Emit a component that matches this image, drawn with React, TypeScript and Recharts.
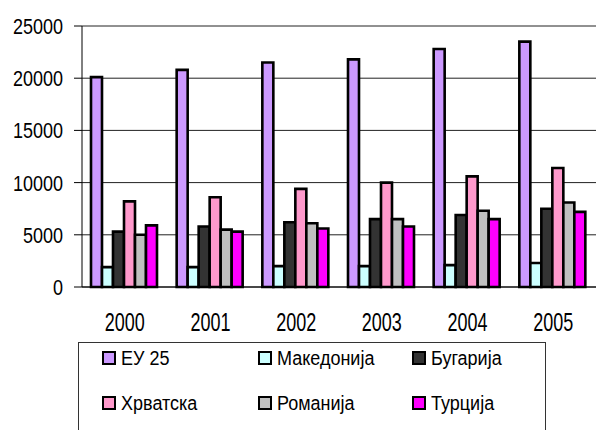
import { Bar, BarChart, CartesianGrid, XAxis, YAxis } from "recharts";

const years = ["2000", "2001", "2002", "2003", "2004", "2005"];
const eu25 = [20100, 20800, 21500, 21800, 22800, 23500];
const makedonija = [1900, 1900, 2000, 2000, 2100, 2300];
const bugarija = [5300, 5800, 6200, 6500, 6900, 7500];
const hrvatska = [8200, 8600, 9400, 10000, 10600, 11400];
const romanija = [5000, 5500, 6100, 6500, 7300, 8100];
const turcija = [5900, 5300, 5600, 5800, 6500, 7200];
const yTicks = [0, 5000, 10000, 15000, 20000, 25000];

const series = [
  { key: "eu25", name: "ЕУ 25", color: "#CC99FF", values: eu25 },
  { key: "mk", name: "Македонија", color: "#CCFFFF", values: makedonija },
  { key: "bg", name: "Бугарија", color: "#333333", values: bugarija },
  { key: "hr", name: "Хрватска", color: "#FF99CC", values: hrvatska },
  { key: "ro", name: "Романија", color: "#C0C0C0", values: romanija },
  { key: "tr", name: "Турција", color: "#FF00FF", values: turcija },
];

const data = years.map((year, i) => {
  const row: Record<string, string | number> = { year };
  series.forEach((s) => {
    row[s.key] = s.values[i];
  });
  return row;
});

const FONT = "'Liberation Sans', Arial, sans-serif";

// labels in the original look stretched vertically, hence the scale
const YTick = (props: any) => {
  const { x, y, payload } = props;
  return (
    <g transform={`translate(${x},${y}) scale(1,1.22)`}>
      <text x={0} y={0} dy="0.36em" textAnchor="end" fontSize={18} fontFamily={FONT} fill="#000">
        {payload.value}
      </text>
    </g>
  );
};

const XTick = (props: any) => {
  const { x, y, payload } = props;
  return (
    <g transform={`translate(${x},${y + 35}) scale(1,1.42)`}>
      <text x={0} y={0} dy="0.36em" textAnchor="middle" fontSize={18} fontFamily={FONT} fill="#000">
        {payload.value}
      </text>
    </g>
  );
};

const legendCols = [23, 179, 333];
const legendRows = [15, 60];

const App = () => {
  return (
    <div
      style={{
        position: "fixed",
        left: 0,
        top: 0,
        width: 596,
        height: 430,
        overflow: "hidden",
        background: "#fff",
      }}
    >
      <BarChart
        width={596}
        height={430}
        data={data}
        margin={{ top: 26, right: 0, left: 0, bottom: 83 }}
        barCategoryGap={9}
        barGap={0}
      >
        <CartesianGrid vertical={false} stroke="#222" />
        <XAxis
          dataKey="year"
          height={60}
          tickLine={false}
          tickSize={0}
          tickMargin={0}
          axisLine={{ stroke: "#000" }}
          tick={<XTick />}
        />
        <YAxis
          width={82}
          domain={[0, 25000]}
          ticks={yTicks}
          interval={0}
          tickSize={8}
          tickMargin={11}
          axisLine={{ stroke: "#000" }}
          tickLine={{ stroke: "#000" }}
          tick={<YTick />}
        />
        {series.map((s) => (
          <Bar
            key={s.key}
            dataKey={s.key}
            name={s.name}
            fill={s.color}
            stroke="#000"
            strokeWidth={2.6}
            isAnimationActive={false}
          />
        ))}
      </BarChart>
      <div
        style={{
          position: "absolute",
          left: 78,
          top: 342,
          width: 468,
          height: 120,
          border: "1px solid #333",
          boxSizing: "border-box",
          fontFamily: FONT,
        }}
      >
        {series.map((s, i) => {
          const left = legendCols[i % 3];
          const top = legendRows[Math.floor(i / 3)];
          return (
            <div key={s.key}>
              <div
                style={{
                  position: "absolute",
                  left,
                  top: top - 7,
                  width: 14,
                  height: 14,
                  boxSizing: "border-box",
                  border: "2px solid #000",
                  background: s.color,
                }}
              />
              <div
                style={{
                  position: "absolute",
                  left: left + 19,
                  top: top - 12,
                  height: 24,
                  lineHeight: "24px",
                  fontSize: 18,
                  whiteSpace: "nowrap",
                  transform: "scaleY(1.17)",
                  transformOrigin: "left center",
                }}
              >
                {s.name}
              </div>
            </div>
          );
        })}
      </div>
    </div>
  );
};

export default App;
